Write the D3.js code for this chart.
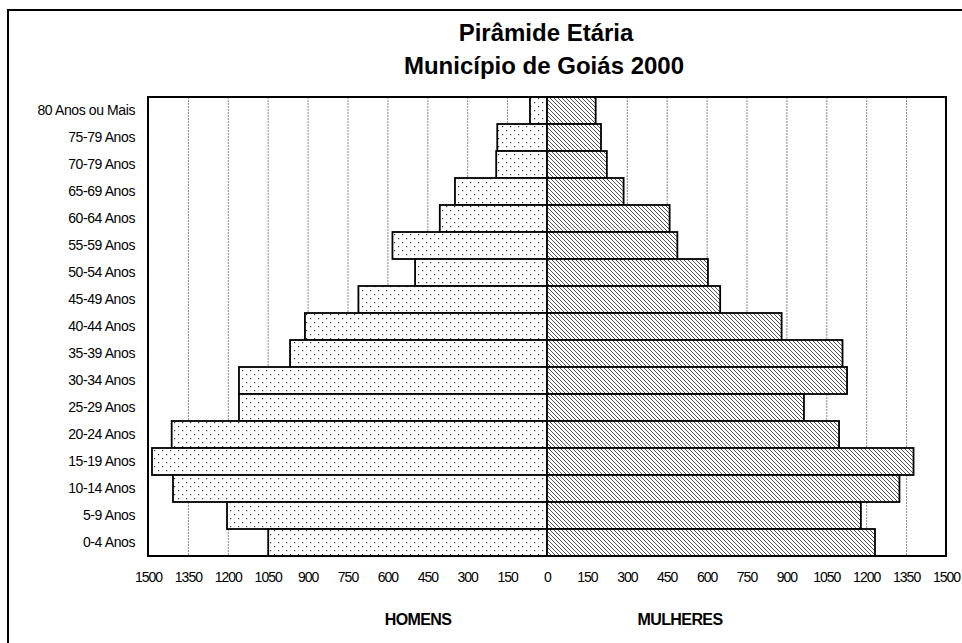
<!DOCTYPE html>
<html>
<head>
<meta charset="utf-8">
<script src="https://cdn.jsdelivr.net/npm/d3@7"></script>
<style>
  body { margin: 0; background: #fff; }
  svg text { font-family: "Liberation Sans", Arial, sans-serif; fill: #000; }
</style>
</head>
<body>
<svg id="chart" width="962" height="643"></svg>
<script>
// faixas etárias, de cima para baixo
const ageGroups = [
  "80 Anos ou Mais", "75-79 Anos", "70-79 Anos", "65-69 Anos", "60-64 Anos",
  "55-59 Anos", "50-54 Anos", "45-49 Anos", "40-44 Anos", "35-39 Anos",
  "30-34 Anos", "25-29 Anos", "20-24 Anos", "15-19 Anos", "10-14 Anos",
  "5-9 Anos", "0-4 Anos"
];
const homens = [64, 187, 191, 346, 403, 581, 496, 709, 910, 966, 1158, 1158, 1411, 1485, 1406, 1203, 1048];
const mulheres = [183, 203, 225, 288, 461, 490, 605, 651, 882, 1111, 1128, 966, 1098, 1378, 1325, 1180, 1233];
const tickValues = [-1500, -1350, -1200, -1050, -900, -750, -600, -450, -300, -150, 0,
  150, 300, 450, 600, 750, 900, 1050, 1200, 1350, 1500];

const svg = d3.select('#chart');
const plot = { left: 148, right: 946, top: 97, bottom: 556 };

const x = d3.scaleLinear()
  .domain([-1500, 1500])
  .range([plot.left, plot.right]);

const y = d3.scaleBand()
  .domain(ageGroups)
  .range([plot.top, plot.bottom])
  .paddingInner(0);

// padrões de preenchimento
const defs = svg.append('defs');
const dots = defs.append('pattern')
  .attr('id', 'dots')
  .attr('patternUnits', 'userSpaceOnUse')
  .attr('width', 8).attr('height', 8);
dots.append('rect').attr('width', 8).attr('height', 8).attr('fill', '#fff');
dots.append('rect').attr('x', 2).attr('y', 2).attr('width', 1.2).attr('height', 1.2).attr('fill', '#333');
dots.append('rect').attr('x', 6).attr('y', 6).attr('width', 1.2).attr('height', 1.2).attr('fill', '#333');

const hatch = defs.append('pattern')
  .attr('id', 'hatch')
  .attr('patternUnits', 'userSpaceOnUse')
  .attr('width', 4).attr('height', 4);
hatch.append('rect').attr('width', 4).attr('height', 4).attr('fill', '#fff');
hatch.append('path')
  .attr('d', 'M-1,-1 L5,5 M3,-1 L5,1 M-1,3 L1,5')
  .attr('stroke', '#555')
  .attr('stroke-width', 1);

// moldura externa
svg.append('rect')
  .attr('x', 8).attr('y', 10)
  .attr('width', 1000).attr('height', 700)
  .attr('fill', 'none')
  .attr('stroke', '#000')
  .attr('stroke-width', 2);

// título
svg.append('text')
  .attr('x', 546).attr('y', 41)
  .attr('text-anchor', 'middle')
  .style('font-size', '24px').style('font-weight', 'bold')
  .text('Pirâmide Etária');
svg.append('text')
  .attr('x', 544).attr('y', 74)
  .attr('text-anchor', 'middle')
  .style('font-size', '24px').style('font-weight', 'bold')
  .text('Município de Goiás 2000');

// linhas de grade
svg.append('g')
  .selectAll('line')
  .data(tickValues.filter(d => Math.abs(d) !== 1500 && d !== 0))
  .join('line')
  .attr('x1', d => x(d) + 0.5).attr('x2', d => x(d) + 0.5)
  .attr('y1', plot.top).attr('y2', plot.bottom)
  .attr('stroke', '#888')
  .attr('stroke-width', 1)
  .attr('stroke-dasharray', '2,1');

// barras
svg.append('g')
  .selectAll('rect')
  .data(homens)
  .join('rect')
  .attr('x', d => x(-d))
  .attr('y', (d, i) => y(ageGroups[i]))
  .attr('width', d => x(0) - x(-d))
  .attr('height', y.bandwidth())
  .attr('fill', 'url(#dots)')
  .attr('stroke', '#000')
  .attr('stroke-width', 1.8);

svg.append('g')
  .selectAll('rect')
  .data(mulheres)
  .join('rect')
  .attr('x', x(0))
  .attr('y', (d, i) => y(ageGroups[i]))
  .attr('width', d => x(d) - x(0))
  .attr('height', y.bandwidth())
  .attr('fill', 'url(#hatch)')
  .attr('stroke', '#000')
  .attr('stroke-width', 1.8);

// borda da área do gráfico
svg.append('rect')
  .attr('x', plot.left).attr('y', plot.top)
  .attr('width', plot.right - plot.left)
  .attr('height', plot.bottom - plot.top)
  .attr('fill', 'none')
  .attr('stroke', '#000')
  .attr('stroke-width', 2);

// rótulos das faixas
svg.append('g')
  .selectAll('text')
  .data(ageGroups)
  .join('text')
  .attr('x', 135)
  .attr('y', d => y(d) + y.bandwidth() / 2)
  .attr('dy', '0.35em')
  .attr('text-anchor', 'end')
  .style('font-size', '14px')
  .style('letter-spacing', '-0.4px')
  .text(d => d);

// eixo x
const axis = d3.axisBottom(x)
  .tickValues(tickValues)
  .tickSize(0)
  .tickPadding(0)
  .tickFormat(d => Math.abs(d));

const gx = svg.append('g')
  .attr('transform', `translate(0, ${plot.bottom + 16})`)
  .call(axis);
gx.select('.domain').remove();
gx.selectAll('text')
  .style('font-size', '14px')
  .style('letter-spacing', '-1px')
  .style('font-family', '"Liberation Sans", Arial, sans-serif');

// títulos dos lados
svg.append('text')
  .attr('x', 418).attr('y', 625)
  .attr('text-anchor', 'middle')
  .style('font-size', '16px').style('font-weight', 'bold')
  .style('letter-spacing', '-0.6px')
  .text('HOMENS');
svg.append('text')
  .attr('x', 680).attr('y', 625)
  .attr('text-anchor', 'middle')
  .style('font-size', '16px').style('font-weight', 'bold')
  .style('letter-spacing', '-0.6px')
  .text('MULHERES');
</script>
</body>
</html>
